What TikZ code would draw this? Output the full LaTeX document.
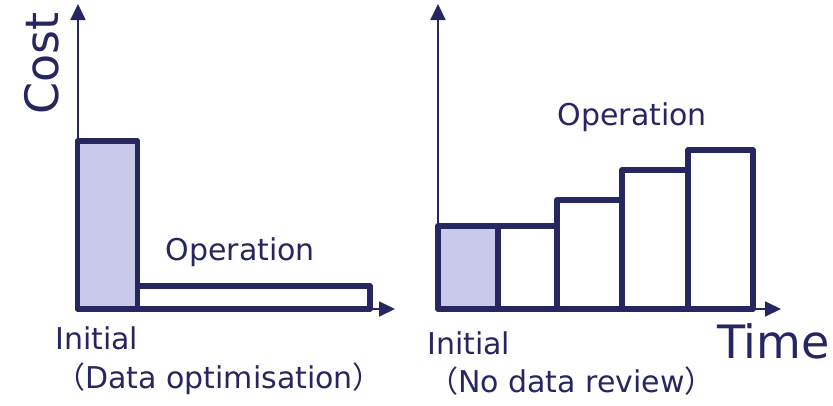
\documentclass[tikz,border=0pt]{standalone}
\usepackage{fontspec}
\setmainfont{DejaVu Sans}
\newfontfamily\cjk{Noto Sans CJK JP}
\usetikzlibrary{arrows.meta}
\definecolor{navy}{HTML}{262660}
\definecolor{lav}{HTML}{C8C8E8}
\begin{document}
\begin{tikzpicture}[x=1pt,y=-1pt,
  axis/.style={navy, line width=1.8pt, -{Triangle[length=16pt,width=15pt]}},
  bar/.style={draw=navy, line width=5.5pt, line join=round},
  ibar/.style={bar, fill=lav},
  lbl/.style={text=navy, font=\fontsize{30}{36}\selectfont, inner sep=0pt, anchor=base west},
  big/.style={text=navy, font=\fontsize{46}{52}\selectfont, inner sep=0pt, anchor=base west}]
\useasboundingbox (0,0) rectangle (833,405);
% left chart axes
\coordinate (lo) at (78,309);
\coordinate (ly) at (78,4);
\coordinate (lx) at (395,309);
\draw[axis] (lo) -- (ly);
\draw[axis] (lo) -- (lx);
% left bars
\draw[ibar] (77.5,141) rectangle (137.5,309);
\draw[bar] (137.5,286) rectangle (370,309);
% right chart axes
\coordinate (ro) at (438,309);
\coordinate (ry) at (438,4);
\coordinate (rx) at (781,309);
\draw[axis] (ro) -- (ry);
\draw[axis] (ro) -- (rx);
% right bars
\draw[ibar] (438,226) rectangle (498,309);
\draw[bar] (498,226) rectangle (557,309);
\draw[bar] (557,200) rectangle (622,309);
\draw[bar] (622,170) rectangle (688,309);
\draw[bar] (688,150) rectangle (753,309);
% labels
\node[big, rotate=90] (cost) at (58,115) {Cost};
\node[lbl] (op1) at (165.5,260) {Operation};
\node[lbl] (init1) at (55,349) {Initial};
\node[lbl] (par1) at (55,388) {{\cjk （}Data optimisation{\cjk ）}};
\node[lbl] (op2) at (557.5,125) {Operation};
\node[lbl] (init2) at (427,354) {Initial};
\node[lbl] (par2) at (428,392) {{\cjk （}No data review{\cjk ）}};
\node[big] (time) at (717,358) {Time};
\end{tikzpicture}
\end{document}
